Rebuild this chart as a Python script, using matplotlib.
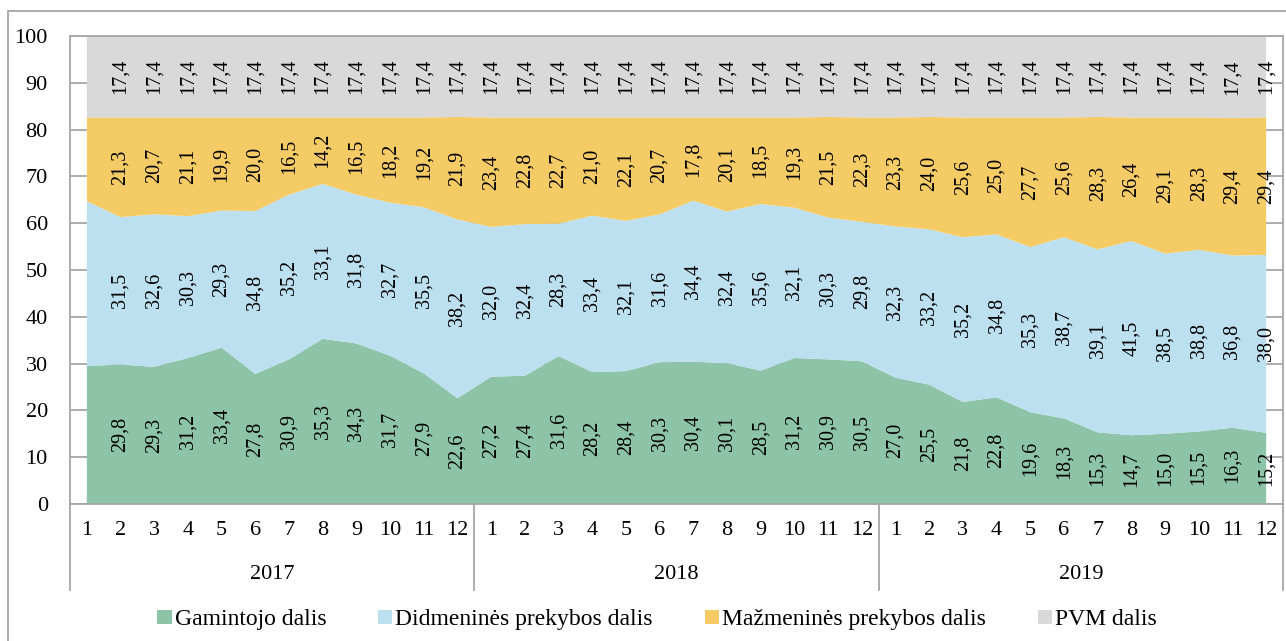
import matplotlib.pyplot as plt
from matplotlib.patches import Patch, Rectangle
from matplotlib.lines import Line2D
from matplotlib.transforms import blended_transform_factory

plt.rcParams['font.family'] = ['Liberation Serif', 'DejaVu Serif']

# Data: 36 months (2017-2019), shares in %
years = ['2017', '2018', '2019']
months = [str(m) for m in range(1, 13)] * 3

gamintojo = [29.5, 29.8, 29.3, 31.2, 33.4, 27.8, 30.9, 35.3, 34.3, 31.7, 27.9, 22.6,
             27.2, 27.4, 31.6, 28.2, 28.4, 30.3, 30.4, 30.1, 28.5, 31.2, 30.9, 30.5,
             27.0, 25.5, 21.8, 22.8, 19.6, 18.3, 15.3, 14.7, 15.0, 15.5, 16.3, 15.2]
didmenines = [35.2, 31.5, 32.6, 30.3, 29.3, 34.8, 35.2, 33.1, 31.8, 32.7, 35.5, 38.2,
              32.0, 32.4, 28.3, 33.4, 32.1, 31.6, 34.4, 32.4, 35.6, 32.1, 30.3, 29.8,
              32.3, 33.2, 35.2, 34.8, 35.3, 38.7, 39.1, 41.5, 38.5, 38.8, 36.8, 38.0]
mazmenines = [17.9, 21.3, 20.7, 21.1, 19.9, 20.0, 16.5, 14.2, 16.5, 18.2, 19.2, 21.9,
              23.4, 22.8, 22.7, 21.0, 22.1, 20.7, 17.8, 20.1, 18.5, 19.3, 21.5, 22.3,
              23.3, 24.0, 25.6, 25.0, 27.7, 25.6, 28.3, 26.4, 29.1, 28.3, 29.4, 29.4]
pvm = [17.4] * 36

series = [gamintojo, didmenines, mazmenines, pvm]
names = ['Gamintojo dalis', 'Didmeninės prekybos dalis',
         'Mažmeninės prekybos dalis', 'PVM dalis']
colors = ['#8DC3A7', '#BDE0F0', '#F5CB66', '#D9D9D9']
grid_col = '#A6A6A6'

x = list(range(1, 37))

fig = plt.figure(figsize=(12.86, 6.41), dpi=100)
ax = fig.add_axes([70 / 1286, 1 - 504 / 641, 1213 / 1286, 468 / 641])

ax.stackplot(x, *series, colors=colors, linewidth=0)
ax.set_xlim(0.5, 36.5)
ax.set_ylim(0, 100)

# gridlines behind the areas
ax.set_axisbelow(True)
ax.set_yticks(range(0, 101, 10))
ax.yaxis.grid(True, color=grid_col, linewidth=1.3)
ax.tick_params(axis='y', length=0, pad=16, labelsize=16)

ax.set_xticks(x)
ax.set_xticklabels(months)
ax.tick_params(axis='x', length=0, pad=12, labelsize=16)

for s in ax.spines.values():
    s.set_color(grid_col)
    s.set_linewidth(1.3)

# data labels (first month has none in the source)
for i in range(1, 36):
    base = 0
    for vals in series:
        v = vals[i]
        ax.text(x[i], base + v / 2, f"{v:.1f}".replace('.', ','),
                rotation=90, ha='center', va='center', fontsize=14.5)
        base += v

# multi-level category axis: year labels and separators
trans = blended_transform_factory(ax.transData, ax.transAxes)
for k, yr in enumerate(years):
    ax.text(6.5 + 12 * k, -0.15, yr, transform=trans, ha='center', va='center', fontsize=16)
for xb in [0.5, 12.5, 24.5, 36.5]:
    ax.add_line(Line2D([xb, xb], [0, -0.184], transform=trans, color=grid_col,
                       linewidth=1.3, clip_on=False))

# outer chart border
fig.patches.append(Rectangle((8 / 1286, -0.01), 1.1, 1 - 11 / 641 + 0.01,
                             transform=fig.transFigure, fill=False,
                             edgecolor=grid_col, linewidth=1.3))

handles = [Patch(facecolor=c, edgecolor='none') for c in colors]
fig.legend(handles, names, loc='center', bbox_to_anchor=(0.511, 0.033), ncol=4,
           frameon=False, fontsize=17, handlelength=0.6, handleheight=0.55,
           handletextpad=0.13, columnspacing=2.2)

fig.savefig('out.png', dpi=100)
